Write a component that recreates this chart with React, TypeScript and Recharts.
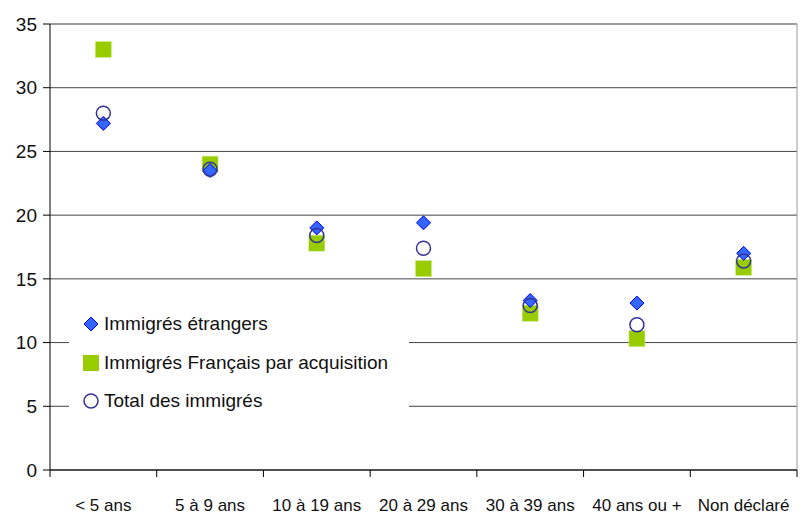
import React from 'react';
import {
  ComposedChart,
  Scatter,
  XAxis,
  YAxis,
  CartesianGrid,
  ReferenceLine,
} from 'recharts';

const categories = ['< 5 ans', '5 à 9 ans', '10 à 19 ans', '20 à 29 ans', '30 à 39 ans', '40 ans ou +', 'Non déclaré'];
const etrangers = [27.2, 23.5, 19.0, 19.4, 13.3, 13.1, 17.0];
const acquisition = [33.0, 24.0, 17.8, 15.8, 12.3, 10.3, 15.9];
const total = [28.0, 23.6, 18.4, 17.4, 12.9, 11.4, 16.4];
const yTicks = [0, 5, 10, 15, 20, 25, 30, 35];
const boundaryTicks = categories.map((_, i) => i).concat(categories.length);

const toPoints = (values: number[]) => values.map((v, i) => ({ x: i + 0.5, y: v, name: categories[i] }));

const FONT = '"Liberation Sans Narrow", "Liberation Sans", Arial, sans-serif';

const Diamond = ({ cx, cy }: any) => (
  <polygon
    points={`${cx},${cy - 7} ${cx + 7},${cy} ${cx},${cy + 7} ${cx - 7},${cy}`}
    fill="#3366FF"
    stroke="#0000EE"
    strokeWidth={1}
  />
);

const Square = ({ cx, cy }: any) => (
  <rect x={cx - 8} y={cy - 8} width={16} height={16} fill="#99CC00" stroke="#CCEE88" strokeWidth={0.5} />
);

const Circle = ({ cx, cy }: any) => (
  <circle cx={cx} cy={cy} r={7} fill="none" stroke="#333399" strokeWidth={1.5} />
);

// category label centred in each band, tick marks sit on the band edges
const CategoryTick = ({ x, y, index, width }: any) => {
  if (index >= categories.length) return null;
  const half = (width || 750) / categories.length / 2;
  return (
    <text x={x + half} y={y + 32} textAnchor="middle" fill="#111" fontSize={17} fontFamily={FONT}>
      {categories[index]}
    </text>
  );
};

const legendItems = [
  { label: 'Immigrés étrangers', icon: <svg width={16} height={16}><polygon points="8,1 15,8 8,15 1,8" fill="#3366FF" stroke="#0000EE" /></svg> },
  { label: 'Immigrés Français par acquisition', icon: <svg width={16} height={16}><rect x={0} y={0} width={16} height={16} fill="#99CC00" /></svg> },
  { label: 'Total des immigrés', icon: <svg width={16} height={16}><circle cx={8} cy={8} r={7} fill="none" stroke="#333399" strokeWidth={1.5} /></svg> },
];

const LegendBox = () => (
  <div style={{ position: 'absolute', left: 69, top: 298, background: '#fff', width: 340, height: 120, paddingTop: 7, boxSizing: 'border-box' }}>
    {legendItems.map((it) => (
      <div key={it.label} style={{ display: 'flex', alignItems: 'center', height: 38.5, paddingLeft: 14, fontFamily: FONT, fontSize: 19, color: '#111' }}>
        {it.icon}
        <span style={{ marginLeft: 5 }}>{it.label}</span>
      </div>
    ))}
  </div>
);

export default function App() {
  return (
    <div style={{ position: 'absolute', left: 0, top: 0, width: 800, height: 518, background: '#fff' }}>
      <ComposedChart width={800} height={518} margin={{ top: 24, right: 3, bottom: 0, left: 8 }}>
        <CartesianGrid horizontal vertical={false} stroke="#444" strokeWidth={1} />
        <XAxis
          type="number"
          dataKey="x"
          domain={[0, categories.length]}
          ticks={boundaryTicks}
          tick={<CategoryTick />}
          tickSize={7}
          height={48}
          interval={0}
          axisLine={{ stroke: '#000' }}
          tickLine={{ stroke: '#000' }}
        />
        <YAxis
          type="number"
          domain={[0, 35]}
          ticks={yTicks}
          tickSize={7}
          width={42}
          axisLine={{ stroke: '#000' }}
          tickLine={{ stroke: '#000' }}
          tick={{ fill: '#111', fontSize: 19, fontFamily: FONT }}
          tickMargin={6}
        />
        <ReferenceLine y={35} stroke="#999" />
        <ReferenceLine x={categories.length} stroke="#999" />
        <Scatter name="Immigrés Français par acquisition" data={toPoints(acquisition)} dataKey="y" shape={Square} isAnimationActive={false} />
        <Scatter name="Immigrés étrangers" data={toPoints(etrangers)} dataKey="y" shape={Diamond} isAnimationActive={false} />
        <Scatter name="Total des immigrés" data={toPoints(total)} dataKey="y" shape={Circle} isAnimationActive={false} />
      </ComposedChart>
      <LegendBox />
    </div>
  );
}
